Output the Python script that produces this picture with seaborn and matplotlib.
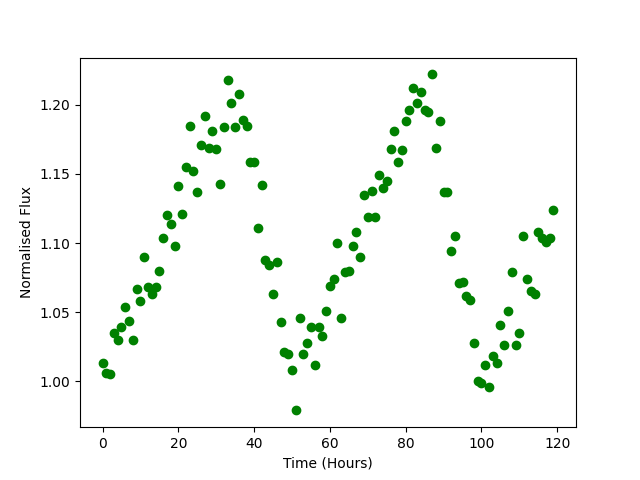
import numpy as np
import pandas as pd
import matplotlib
matplotlib.use('Agg')
import matplotlib.pyplot as plt
import seaborn as sns

# Hourly samples
hours = np.arange(120)
flux = [
    1.013, 1.006, 1.005, 1.035, 1.030, 1.039, 1.054, 1.044, 1.030, 1.067,
    1.058, 1.090, 1.068, 1.063, 1.068, 1.080, 1.104, 1.120, 1.114, 1.098,
    1.141, 1.121, 1.155, 1.185, 1.152, 1.137, 1.171, 1.192, 1.169, 1.181,
    1.168, 1.143, 1.184, 1.218, 1.201, 1.184, 1.208, 1.189, 1.185, 1.159,
    1.159, 1.111, 1.142, 1.088, 1.084, 1.063, 1.086, 1.043, 1.021, 1.020,
    1.008, 0.979, 1.046, 1.020, 1.028, 1.039, 1.012, 1.039, 1.033, 1.051,
    1.069, 1.074, 1.100, 1.046, 1.079, 1.080, 1.098, 1.108, 1.090, 1.135,
    1.119, 1.138, 1.119, 1.149, 1.140, 1.145, 1.168, 1.181, 1.159, 1.167,
    1.188, 1.196, 1.212, 1.201, 1.209, 1.196, 1.195, 1.222, 1.169, 1.188,
    1.137, 1.137, 1.094, 1.105, 1.071, 1.072, 1.062, 1.059, 1.028, 1.000,
    0.999, 1.012, 0.996, 1.018, 1.013, 1.041, 1.026, 1.051, 1.079, 1.026,
    1.035, 1.105, 1.074, 1.065, 1.063, 1.108, 1.104, 1.101, 1.104, 1.124,
]

df = pd.DataFrame({'time': hours, 'flux': flux})

fig, ax = plt.subplots(figsize=(6.4, 4.8), dpi=100)
sns.scatterplot(data=df, x='time', y='flux', color='green', edgecolor='green',
                s=36, linewidth=1, ax=ax)
ax.set_xlabel('Time (Hours)')
ax.set_ylabel('Normalised Flux')
ax.set_yticks([1.00, 1.05, 1.10, 1.15, 1.20])
fig.savefig('out.png', dpi=100)
